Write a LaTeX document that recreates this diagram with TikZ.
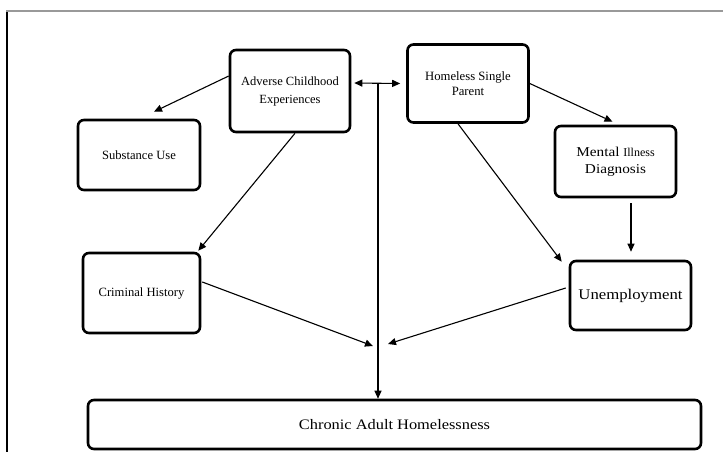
\documentclass[tikz,border=0pt]{standalone}
\usepackage{fontspec}
\setmainfont{Liberation Serif}
\newfontfamily\widefont[FakeStretch=1.13]{Liberation Serif}
\usetikzlibrary{arrows.meta,calc}
\begin{document}
\begin{tikzpicture}[x=1pt,y=-1pt,
  box/.style={draw, line width=2.6pt, rounded corners=6pt, align=center, inner sep=0pt},
  arr/.style={-{Triangle[length=8pt,width=7pt]}, line width=1.1pt},
  darr/.style={{Triangle[length=8pt,width=7pt]}-{Triangle[length=8pt,width=7pt]}, line width=1.1pt}]
\useasboundingbox (0,0) rectangle (723,451);
% frame
\draw[black, line width=1.5pt] (7,452) -- (7,11);
\draw[gray!80, line width=1.3pt] (6.3,11) -- (724,11);
% boxes
\node[box, minimum width=120pt, minimum height=82pt, font=\fontsize{12.5}{18}\selectfont] (ace) at (290,91) {Adverse Childhood\\Experiences};
\node[box, minimum width=121pt, minimum height=78pt, font=\fontsize{12.7}{14.5}\selectfont] (hsp) at (468,83.5) {Homeless Single\\Parent};
\node[box, minimum width=122pt, minimum height=70pt, font=\fontsize{12.6}{15}\selectfont] (sub) at (139,155) {Substance Use};
\node[box, minimum width=121pt, minimum height=71pt, font=\widefont\fontsize{13.5}{17}\selectfont] (men) at (615.5,161.5) {Mental {\normalfont\fontsize{12}{17}\selectfont Illness}\\Diagnosis};
\node[box, minimum width=117pt, minimum height=80pt, font=\fontsize{12.6}{15}\selectfont] (cri) at (141.5,293) {Criminal History};
\node[box, minimum width=121pt, minimum height=69pt, font=\widefont\fontsize{14.8}{17}\selectfont] (une) at (630.5,295.5) {Unemployment};
\node[box, minimum width=613pt, minimum height=49pt, font=\widefont\fontsize{14.5}{17}\selectfont] (cah) at (394.5,424.5) {Chronic Adult Homelessness};
% junctions
\coordinate (j) at (378,83);
\coordinate (m) at (378,345);
% connectors
\draw[arr] ($(ace.west)+(0,-15)$) -- ($(sub.north)+(15,-7)$);
\draw[arr] ($(ace.south)+(5,0)$) -- ($(cri.north east)+(-3,-1)$);
\draw[darr] ($(ace.east)+(3,-8)$) -- ($(hsp.west)+(-6,0)$);
\draw[arr] (j) -- (j |- cah.north);
\draw[arr] (hsp.east) -- ($(men.north)+(-3,-3)$);
\draw[arr] ($(hsp.south)+(-10,0)$) -- ($(une.north west)+(-7,2)$);
\coordinate (ms) at ($(men.south)+(15.5,5)$);
\draw[arr] (ms) -- ($(ms |- une.north)+(0,-8)$);
\draw[arr] ($(cri.east)+(1,-11)$) -- ($(m)+(-5,1)$);
\draw[arr] ($(une.west)+(-3,-7.5)$) -- ($(m)+(10,-1)$);
\end{tikzpicture}
\end{document}
